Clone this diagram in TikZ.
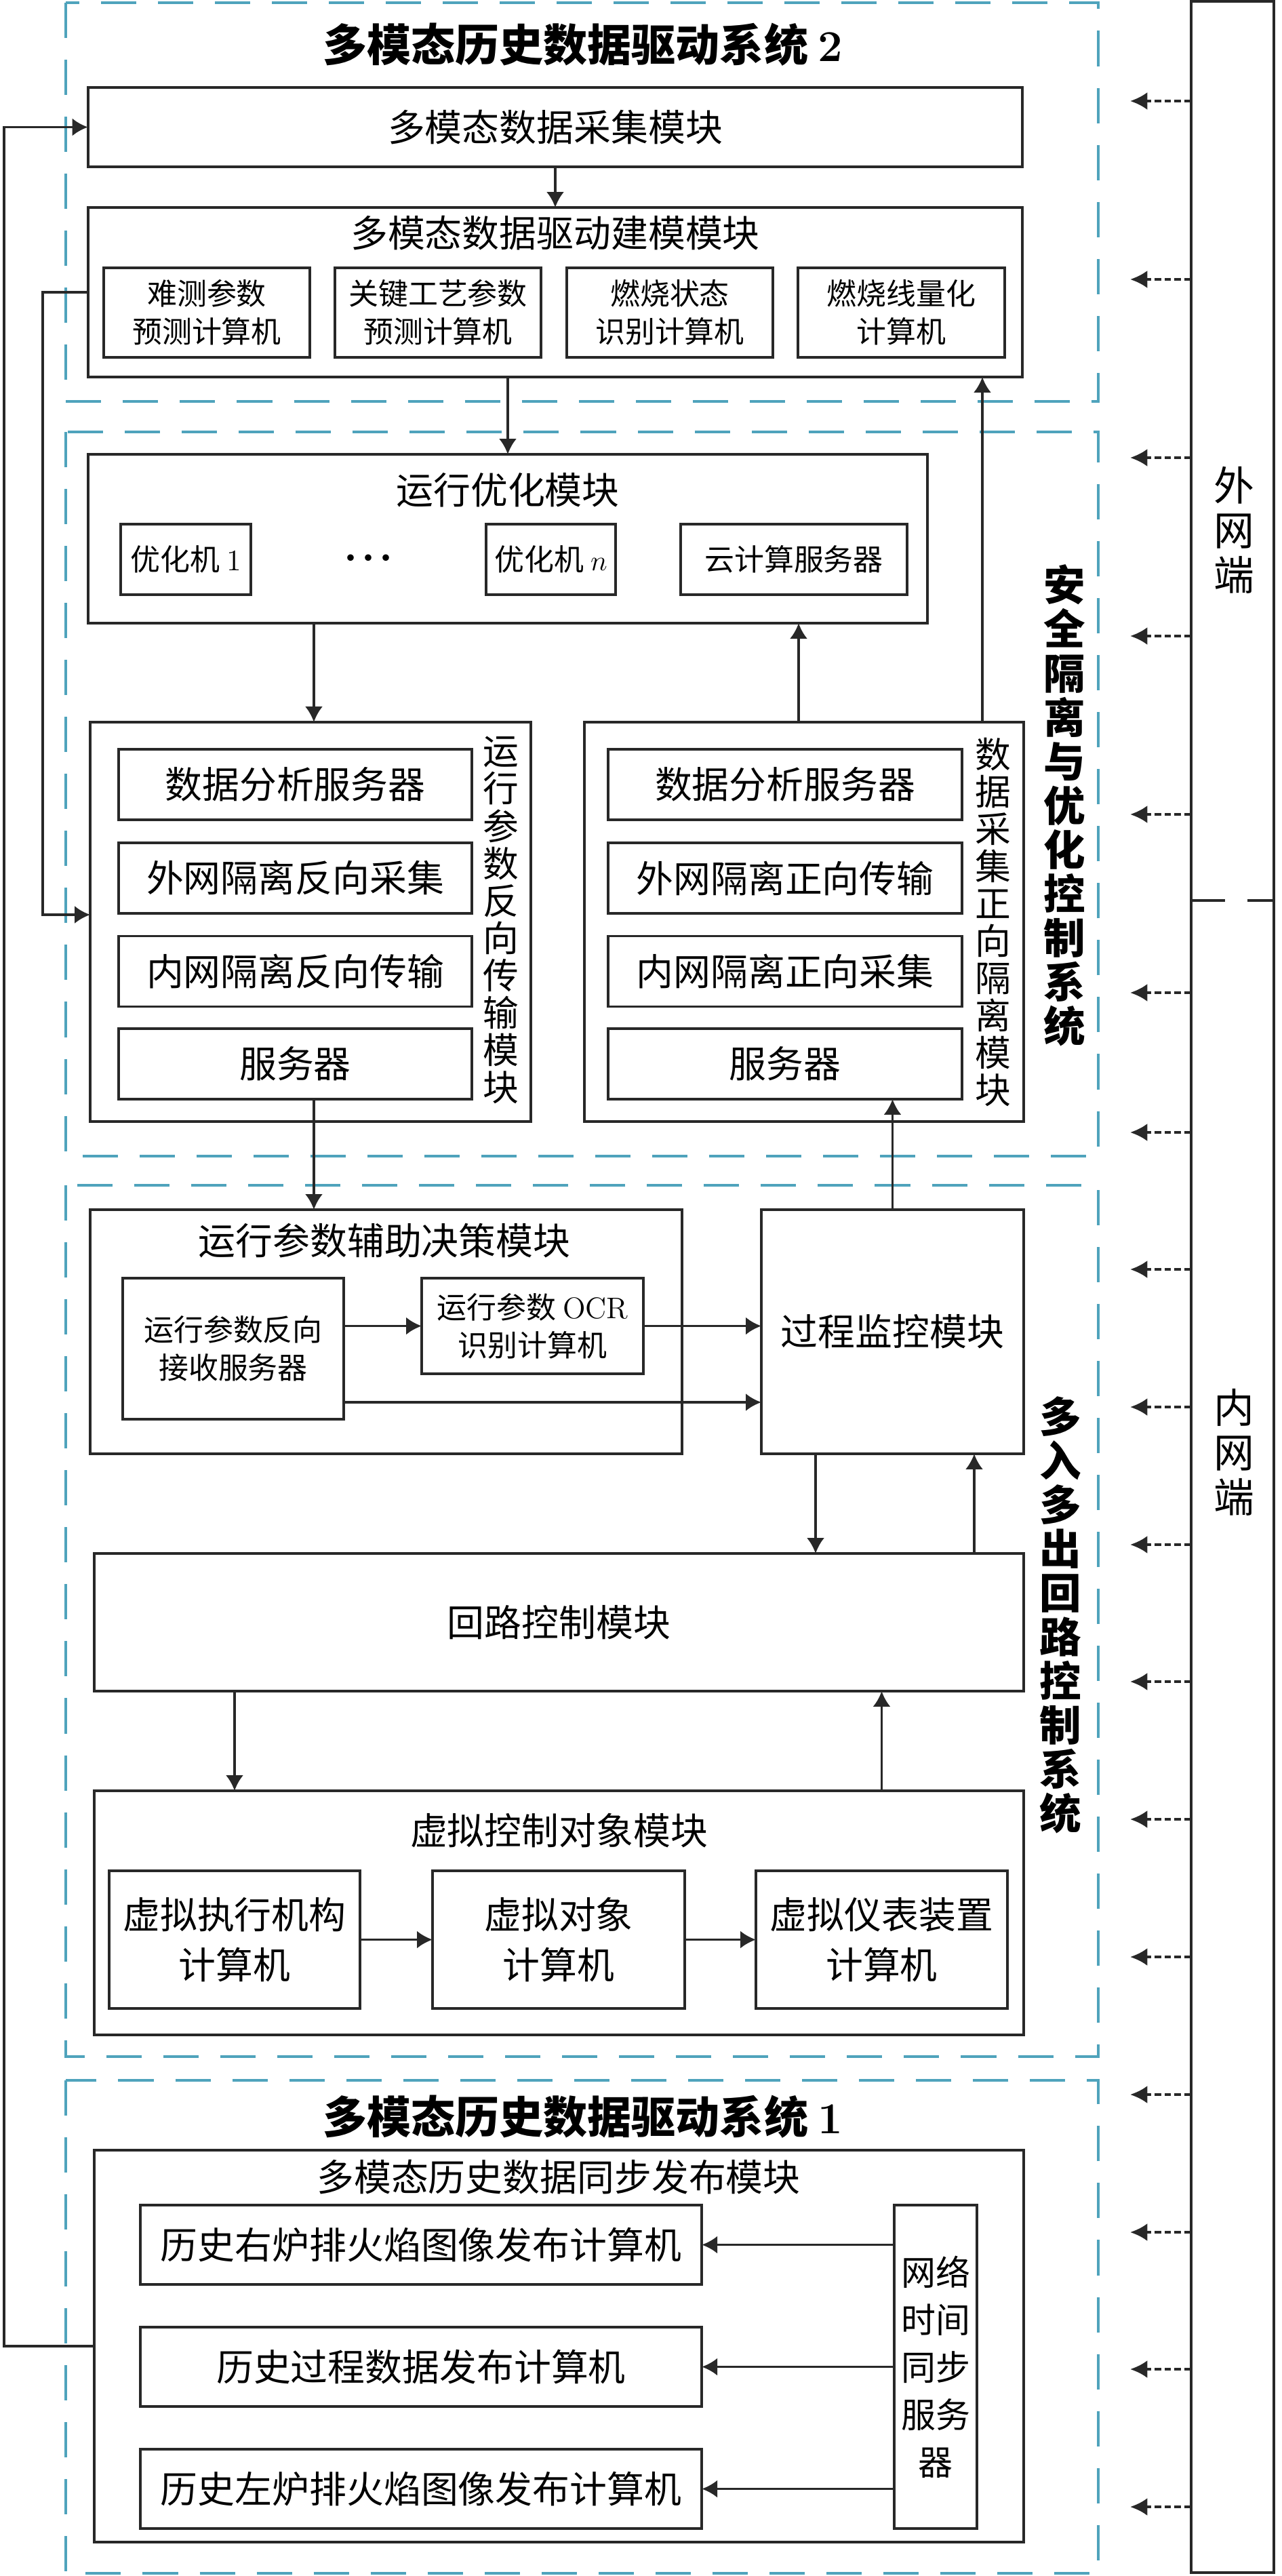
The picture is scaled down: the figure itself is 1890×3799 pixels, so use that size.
\documentclass[tikz,border=0pt]{standalone}
\usepackage{fontspec}
\newfontfamily\cjk{Noto Sans CJK SC}
\usetikzlibrary{arrows.meta}
\definecolor{sysblue}{RGB}{79,163,188}
\definecolor{ink}{RGB}{40,40,40}
\newcommand\fontSys{\cjk\bfseries\fontsize{18.5pt}{22pt}\selectfont}
\newcommand\fontSysV{\cjk\bfseries\fontsize{17.5pt}{18.5pt}\selectfont}
\newcommand\fontMod{\cjk\fontsize{15.6pt}{21pt}\selectfont}
\newcommand\fontSub{\cjk\fontsize{12.5pt}{15.9pt}\selectfont}
\newcommand\fontVert{\cjk\fontsize{15pt}{15.65pt}\selectfont}
\newcommand\fontNet{\cjk\fontsize{17pt}{18.8pt}\selectfont}
\newcommand\fontSync{\cjk\fontsize{14.5pt}{19.9pt}\selectfont}

\begin{document}
\begin{tikzpicture}[x=0.01cm,y=-0.01cm,
    modbox/.style={draw=ink,line width=1.1pt,inner sep=0pt,outer sep=0pt,font=\fontMod,align=center},
    subbox/.style={modbox,font=\fontSub},
    sysbox/.style={draw=sysblue,line width=1.1pt,dash pattern=on 14.8pt off 9.1pt},
    txt/.style={inner sep=0pt,font=\fontMod,align=center},
    arr/.style={draw=ink,line width=1pt,-{Latex[length=6.5pt,width=7.4pt]}},
    netarr/.style={draw=ink,line width=1.1pt,dash pattern=on 2.8pt off 1.4pt,-{Latex[length=7.2pt,width=7.4pt]}}]
                \useasboundingbox (0,0) rectangle (1890,3799);
                \draw[sysbox] (97,4) rectangle (1620,592);
                \draw[sysbox] (97,637) rectangle (1620,1705);
                \draw[sysbox] (97,1748) rectangle (1620,3033);
                \draw[sysbox] (97,3068) rectangle (1620,3795);
                \node[txt,font=\fontSys] (sysB) at (860,66) {多模态历史数据驱动系统 {\rmfamily 2}};
                \node[txt,font=\fontSysV] (sysS) at (1570,1188) {安\\全\\隔\\离\\与\\优\\化\\控\\制\\系\\统};
                \node[txt,font=\fontSysV] (sysM) at (1564,2382) {多\\入\\多\\出\\回\\路\\控\\制\\系\\统};
                \node[txt,font=\fontSys] (sysA) at (860,3122) {多模态历史数据驱动系统 {\rmfamily 1}};
                \node[modbox,minimum width=13.78cm,minimum height=1.17cm] (acq) at (819,187.5) {多模态数据采集模块};
                \node[modbox,minimum width=13.78cm,minimum height=2.5cm] (model) at (819,431) {};
                \node[txt] (modelT) at (819,344) {多模态数据驱动建模模块};
                \node[subbox,minimum width=3.04cm,minimum height=1.32cm] (m1) at (305,461) {难测参数\\预测计算机};
                \node[subbox,minimum width=3.04cm,minimum height=1.32cm] (m2) at (646,461) {关键工艺参数\\预测计算机};
                \node[subbox,minimum width=3.04cm,minimum height=1.32cm] (m3) at (988,461) {燃烧状态\\识别计算机};
                \node[subbox,minimum width=3.04cm,minimum height=1.32cm] (m4) at (1329.5,461) {燃烧线量化\\计算机};
                \node[modbox,minimum width=12.38cm,minimum height=2.49cm] (opt) at (749,794.5) {};
                \node[txt] (optT) at (749,723) {运行优化模块};
                \node[subbox,minimum width=1.92cm,minimum height=1.04cm] (opt1) at (274,825) {优化机 {\rmfamily 1}};
                \node[txt,font=\rmfamily\fontsize{9.5pt}{9.5pt}\selectfont] (optdots) at (543,824) {\textbullet\textbullet\textbullet};
                \node[subbox,minimum width=1.91cm,minimum height=1.04cm] (optn) at (812.5,825) {优化机 $n$};
                \node[subbox,minimum width=3.34cm,minimum height=1.04cm] (cloud) at (1171,825) {云计算服务器};
                \node[modbox,minimum width=6.5cm,minimum height=5.89cm] (rev) at (458,1359.5) {};
                \node[txt,font=\fontVert] (revT) at (739,1357) {运\\行\\参\\数\\反\\向\\传\\输\\模\\块};
                \node[modbox,minimum width=5.21cm,minimum height=1.04cm] (r1) at (435.5,1157) {数据分析服务器};
                \node[modbox,minimum width=5.21cm,minimum height=1.04cm] (r2) at (435.5,1295) {外网隔离反向采集};
                \node[modbox,minimum width=5.21cm,minimum height=1.04cm] (r3) at (435.5,1432.5) {内网隔离反向传输};
                \node[modbox,minimum width=5.21cm,minimum height=1.04cm] (r4) at (435.5,1569) {服务器};
                \node[modbox,minimum width=6.48cm,minimum height=5.89cm] (fwd) at (1186,1359.5) {};
                \node[txt,font=\fontVert] (fwdT) at (1465,1360) {数\\据\\采\\集\\正\\向\\隔\\离\\模\\块};
                \node[modbox,minimum width=5.22cm,minimum height=1.04cm] (f1) at (1158,1157) {数据分析服务器};
                \node[modbox,minimum width=5.22cm,minimum height=1.04cm] (f2) at (1158,1295) {外网隔离正向传输};
                \node[modbox,minimum width=5.22cm,minimum height=1.04cm] (f3) at (1158,1432.5) {内网隔离正向采集};
                \node[modbox,minimum width=5.22cm,minimum height=1.04cm] (f4) at (1158,1569) {服务器};
                \node[modbox,minimum width=8.73cm,minimum height=3.6cm] (aux) at (569.5,1964) {};
                \node[txt] (auxT) at (567,1830) {运行参数辅助决策模块};
                \node[subbox,minimum width=3.26cm,minimum height=2.08cm] (recv) at (344,1989) {运行参数反向\\接收服务器};
                \node[subbox,minimum width=3.27cm,minimum height=1.41cm] (ocr) at (785.5,1955.5) {运行参数 {\rmfamily OCR}\\识别计算机};
                \node[modbox,minimum width=3.87cm,minimum height=3.6cm] (mon) at (1316.5,1964) {过程监控模块};
                \node[modbox,minimum width=13.71cm,minimum height=2.03cm] (loop) at (824.5,2392.5) {回路控制模块};
                \node[modbox,minimum width=13.71cm,minimum height=3.6cm] (virt) at (824.5,2821) {};
                \node[txt] (virtT) at (824.5,2700) {虚拟控制对象模块};
                \node[modbox,minimum width=3.7cm,minimum height=2.03cm] (v1) at (346,2860.5) {虚拟执行机构\\计算机};
                \node[modbox,minimum width=3.72cm,minimum height=2.03cm] (v2) at (824,2860.5) {虚拟对象\\计算机};
                \node[modbox,minimum width=3.71cm,minimum height=2.03cm] (v3) at (1300.5,2860.5) {虚拟仪表装置\\计算机};
                \node[modbox,minimum width=13.71cm,minimum height=5.78cm] (pub) at (824.5,3460) {};
                \node[txt] (pubT) at (824,3211) {多模态历史数据同步发布模块};
                \node[modbox,minimum width=8.28cm,minimum height=1.17cm] (p1) at (621,3310.5) {历史右炉排火焰图像发布计算机};
                \node[modbox,minimum width=8.28cm,minimum height=1.17cm] (p2) at (621,3490.5) {历史过程数据发布计算机};
                \node[modbox,minimum width=8.28cm,minimum height=1.17cm] (p3) at (621,3670.5) {历史左炉排火焰图像发布计算机};
                \node[modbox,font=\fontSync,minimum width=1.22cm,minimum height=4.77cm] (sync) at (1380,3490.5) {网络\\时间\\同步\\服务\\器};
                \node[modbox,minimum width=1.22cm,minimum height=37.9cm] (net) at (1818,1898) {};
                \node[txt,font=\fontNet] (outT) at (1820,782) {外\\网\\端};
                \node[txt,font=\fontNet] (inT) at (1820,2142) {内\\网\\端};
                \coordinate (sepL) at (1757,1328);
                \draw[ink,line width=1.1pt,dash pattern=on 0.5cm off 0.33cm] (sepL) -- (sepL -| net.east);
                \foreach \y in {149,412,675,938,1201,1464,1670,1872,2075,2278,2480,2683,2886,3089,3292,3494,3697}
                    \draw[netarr] (net.west |- 0,\y) -- (1667,\y);
                \coordinate (fbA) at (6,0);
                \coordinate (fbB) at (63,0);
                \coordinate (revIn) at (133,1349);
                \coordinate (up1) at (1449,0);
                \coordinate (up2) at (1178,0);
                \coordinate (dn1) at (463,0);
                \coordinate (dn2) at (1203,0);
                \coordinate (up3) at (1437,0);
                \coordinate (rcvOut) at (507,2068);
                \draw[arr] (pub.west) -- (pub.west -| fbA) -- (acq.west -| fbA) -- (acq.west);
                \draw[arr] (model.west) -- (model.west -| fbB) -- (fbB |- revIn) -- (revIn);
                \draw[arr] (acq.south) -- (model.north);
                \draw[arr] (opt.north |- model.south) -- (opt.north);
                \draw[arr] (up1 |- fwd.north) -- (up1 |- model.south);
                \draw[arr] (dn1 |- opt.south) -- (dn1 |- rev.north);
                \draw[arr] (up2 |- fwd.north) -- (up2 |- opt.south);
                \draw[arr] (dn1 |- r4.south) -- (dn1 |- aux.north);
                \draw[arr] (mon.north) -- (mon.north |- f4.south);
                \draw[arr] (recv.east |- ocr.west) -- (ocr.west);
                \draw[arr] (ocr.east) -- (ocr.east -| mon.west);
                \draw[arr] (rcvOut) -- (rcvOut -| mon.west);
                \draw[arr] (dn2 |- mon.south) -- (dn2 |- loop.north);
                \draw[arr] (up3 |- loop.north) -- (up3 |- mon.south);
                \draw[arr] (v1.north |- loop.south) -- (v1.north |- virt.north);
                \draw[arr] (v3.north |- virt.north) -- (v3.north |- loop.south);
                \draw[arr] (v1) -- (v2);
                \draw[arr] (v2) -- (v3);
                \foreach \p in {p1,p2,p3}
                    \draw[arr] (sync.west |- \p) -- (\p.east);
            \end{tikzpicture}
\end{document}
